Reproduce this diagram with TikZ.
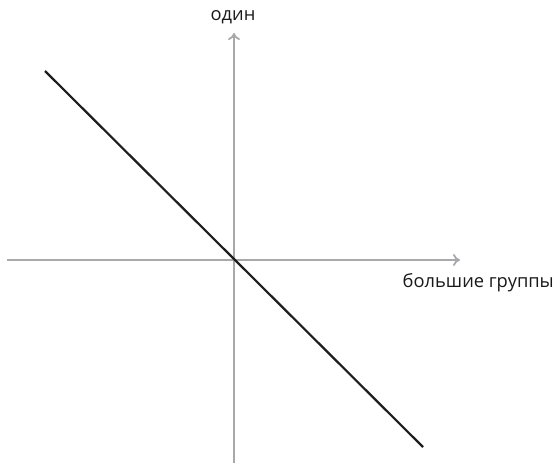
\documentclass[tikz,border=0pt]{standalone}
\usepackage{fontspec}
\setmainfont{Open Sans}
\usetikzlibrary{arrows.meta}
\definecolor{axisgray}{HTML}{A9A9AB}
\definecolor{linedark}{HTML}{1E1E1E}
\tikzset{
  axis/.style={draw=axisgray, line width=1.8pt, -{To[length=7pt,width=12pt]}},
  mainline/.style={draw=linedark, line width=2.2pt},
  lbl/.style={font=\fontsize{18.3}{21}\selectfont, text=black!90, inner sep=0pt}
}
\begin{document}
\begin{tikzpicture}[x=1pt,y=-1pt]
\useasboundingbox (0,0) rectangle (556,463);
\coordinate (xl) at (7,260);
\coordinate (xr) at (460,260);
\coordinate (yb) at (234,463);
\coordinate (yt) at (234,33);
\coordinate (la) at (45,71);
\coordinate (lb) at (423,447);
\draw[axis] (xl) -- (xr);
\draw[axis] (yb) -- (yt);
\draw[mainline] (la) -- (lb);
\node[lbl, anchor=base] (ylab) at (233,20) {один};
\node[lbl, anchor=base east] (xlab) at (554,287) {большие группы};
\end{tikzpicture}
\end{document}
